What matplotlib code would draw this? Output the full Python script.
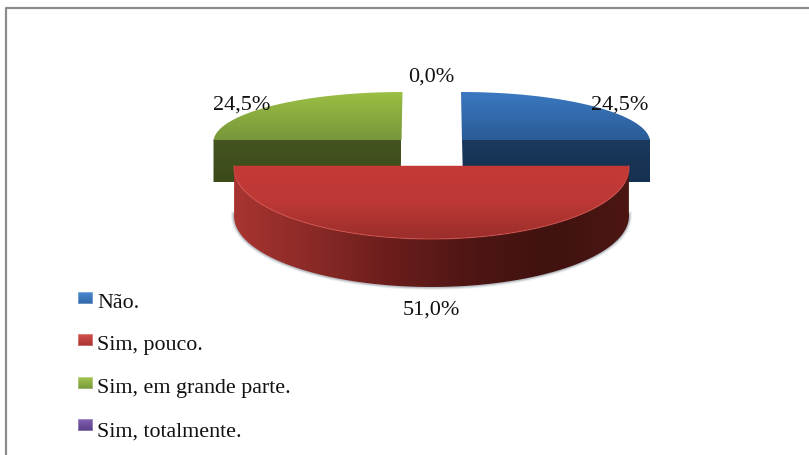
import matplotlib
matplotlib.use('Agg')
import matplotlib.pyplot as plt
import numpy as np
from matplotlib.colors import LinearSegmentedColormap
from matplotlib.patches import Polygon

categories = ['Não.', 'Sim, pouco.', 'Sim, em grande parte.', 'Sim, totalmente.']
values = [24.5, 51.0, 24.5, 0.0]
pct_labels = ['24,5%', '51,0%', '24,5%', '0,0%']
swatch_colors = [('#4a8ad0', '#2f67a8'), ('#d4504c', '#a63330'),
                 ('#a2c650', '#76983a'), ('#8060b0', '#5a3e88')]

plt.rcParams['font.family'] = ['Liberation Serif', 'DejaVu Serif']

fig = plt.figure(figsize=(8.09, 4.56), dpi=100)
ax = fig.add_axes([0, 0, 1, 1])
ax.set_xlim(0, 809)
ax.set_ylim(456, 0)
ax.axis('off')

# frame: only the left and top rules reach into the image
ax.plot([6.5, 6.5, 809], [456, 8.5, 8.5], color='#8c8c8c', lw=1.6, zorder=1)


def gradient(poly, colors, horizontal=False, zorder=3):
    # fill a polygon with a linear gradient by clipping an image to it
    xs, ys = poly[:, 0], poly[:, 1]
    cmap = LinearSegmentedColormap.from_list('g', colors)
    g = np.linspace(0, 1, 256)
    g = g.reshape(1, -1) if horizontal else g.reshape(-1, 1)
    im = ax.imshow(g, cmap=cmap, extent=[xs.min(), xs.max(), ys.max(), ys.min()],
                   aspect='auto', zorder=zorder, interpolation='bilinear')
    patch = Polygon(poly, closed=True, fc='none', ec='none', transform=ax.transData)
    ax.add_patch(patch)
    im.set_clip_path(patch)


def arc(cx, cy, rx, ry, a0, a1):
    # angles in degrees, clockwise from twelve o'clock
    t = np.radians(np.linspace(a0, a1, 200))
    return np.column_stack([cx + rx * np.sin(t), cy - ry * np.cos(t)])


# slice angles come straight from the values
stops = np.cumsum([0] + values) / sum(values) * 360

# blue slice, back right
cx, cy, rx, ry, depth = 461, 143, 189, 50, 40
blue_arc = arc(cx, cy, rx, ry, stops[0], stops[1])
top = np.vstack([[cx + 1, blue_arc[-1, 1]], blue_arc])
front = np.array([[cx + 1, cy - 3], [cx + rx, cy - 3], [cx + rx, cy + depth], [cx + 2, cy + depth]])
gradient(front, ['#1b3a5e', '#15304f'])
gradient(top, ['#3b79c2', '#2a5c96'])

# green slice, back left
cx, cy, rx, ry, depth = 402.5, 143, 189, 50, 40
green_arc = arc(cx, cy, rx, ry, stops[2], stops[3])
top = np.vstack([[cx - 1, green_arc[0, 1]], green_arc])
front = np.array([[cx - rx, cy - 3], [cx - 1, cy - 3], [cx - 2, cy + depth], [cx - rx, cy + depth]])
gradient(front, ['#445420', '#3c4a1b'])
gradient(top, ['#9cc044', '#76963a'])

# red slice, in front
cx, cy, rx, ry, depth = 431.5, 169, 197.5, 71, 48
top = arc(cx, cy, rx, ry, stops[1], stops[2])
edge = arc(cx, cy, rx, ry, stops[2], stops[1])
side = np.vstack([edge, arc(cx, cy + depth, rx, ry, stops[1], stops[2])])

# soft shadow along the lower rim
shadow = arc(cx, cy + depth, rx + 0.5, ry + 0.5, stops[1], stops[2])
for w, alpha in [(3.5, 0.10), (2.0, 0.15), (1.0, 0.2)]:
    ax.plot(shadow[:, 0], shadow[:, 1], color='#506070', lw=w, alpha=alpha, zorder=2.5)

gradient(side, ['#a83431', '#8a2a27', '#6a1d1b', '#4e1614', '#401210', '#4c1613'], horizontal=True)
gradient(top, ['#c53a37', '#bd3835', '#9a2e2b'], zorder=3.5)
ax.plot(edge[:, 0], edge[:, 1], color='#d9504c', lw=0.9, alpha=0.6, zorder=4)

# percentage labels, positioned on their baselines
label_pos = [(620, 110), (431, 315), (241.5, 110), (431.5, 82)]
for lab, (x, y) in zip(pct_labels, label_pos):
    ax.text(x, y, lab, fontsize=16, ha='center', va='baseline', color='#111111', zorder=6)

# legend swatches and text
swatch_y = [299, 341, 384, 426]
text_y = [308, 350.5, 393, 437]
for name, sy, ty, (c0, c1) in zip(categories, swatch_y, text_y, swatch_colors):
    sq = np.array([[78, sy - 6], [93, sy - 6], [93, sy + 6], [78, sy + 6]], dtype=float)
    gradient(sq, [c0, c1], zorder=5)
    ax.plot(sq[[0, 1, 2, 3, 0], 0], sq[[0, 1, 2, 3, 0], 1], color='white', lw=1.2, alpha=0.35, zorder=5.1)
    ax.text(97, ty, name, fontsize=15.8, ha='left', va='baseline', color='#111111', zorder=6)

fig.savefig('out.png', dpi=100)
